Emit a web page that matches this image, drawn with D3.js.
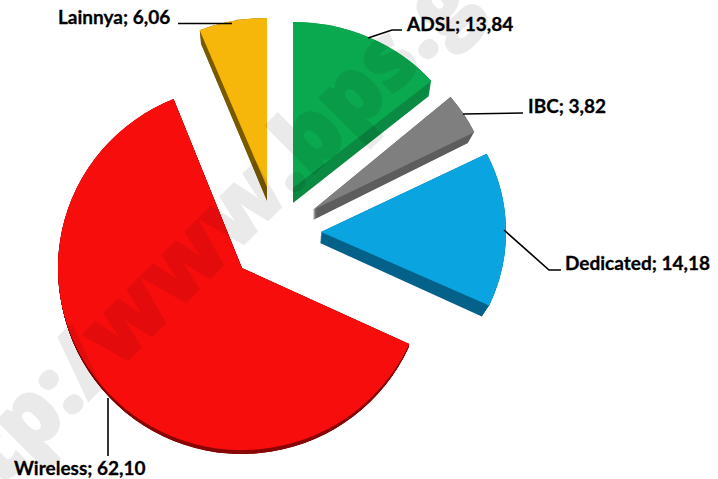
<!DOCTYPE html>
<html><head><meta charset="utf-8">
<script src="https://cdn.jsdelivr.net/npm/d3@7"></script>
<style>html,body{margin:0;padding:0;background:#fff}svg{display:block}</style>
</head><body><svg id="c" width="718" height="479"></svg>
<script>
const categories = ["ADSL","IBC","Dedicated","Wireless","Lainnya"];
const values = [13.84,3.82,14.18,62.10,6.06];
const faceColors = ["#0aa94f","#7f7f7f","#0aa5e0","#f80d0d","#f6b70a"];
const sideColors = ["#0a8a42","#5e5e5e","#05628a","#8a0808","#7a5c00"];
// layout of each exploded slice: top-face apex and radii, then the lower (extruded) copy
const faces = [
 {x:293,y:188,rx:181,ry:166, bx:293,by:203,brx:178,bry:166},
 {x:313,y:210,rx:180,ry:175, bx:313,by:220,brx:173,bry:173},
 {x:321,y:232,rx:185,ry:176, bx:320,by:243,brx:178,bry:176},
 {x:242,y:268,rx:184,ry:182, bx:242,by:272,brx:183,bry:182},
 {x:267,y:187,rx:181,ry:169, bx:267,by:201,brx:178,bry:170}
];
const leaders = [
 [[368,38],[392,30],[402,30]],
 [[463,114],[523,113]],
 [[504,230],[549,270],[561,270]],
 [[108,398],[108,456]],
 [[232,23.5],[178,23.5]]
];
const labelPos = [[407,31],[528,113],[565,270],[14,475],[58,24]];
const watermark = "http://www.bps.go.id";

const svg = d3.select("#c");
const fmt = v => v.toFixed(2).replace(".",",");
const arcs = d3.pie().sort(null)(values);
const unit = d3.arc().innerRadius(0).outerRadius(1);
const steps = 16;

const g = svg.append("g");
arcs.forEach((a,i)=>{
  const f = faces[i];
  for(let s=0;s<=steps;s++){
    const t=s/steps;
    g.append("path").attr("d",unit(a)).attr("fill",sideColors[i])
     .attr("transform",`translate(${f.bx+(f.x-f.bx)*t},${f.by+(f.y-f.by)*t}) scale(${f.brx+(f.rx-f.brx)*t},${f.bry+(f.ry-f.bry)*t})`);
  }
  g.append("path").attr("d",unit(a)).attr("fill",faceColors[i])
   .attr("transform",`translate(${f.x},${f.y}) scale(${f.rx},${f.ry})`);
});

svg.append("text").text(watermark)
  .attr("transform","translate(-73,561) rotate(-45)")
  .attr("dx","0 0 0 0 0 0 -37")
  .attr("font-family","Open Sans, sans-serif").attr("font-weight",800).attr("font-size",90)
  .attr("fill","#000").attr("stroke","#000").attr("stroke-width",2).attr("opacity",0.08);

const line = d3.line();
leaders.forEach(l=>svg.append("path").attr("d",line(l)).attr("fill","none").attr("stroke","#000").attr("stroke-width",1.6));

categories.forEach((c,i)=>{
  svg.append("text").attr("x",labelPos[i][0]).attr("y",labelPos[i][1])
   .attr("font-family","Lato, Carlito, sans-serif").attr("font-weight",700).attr("font-size",19)
   .attr("fill","#000").attr("stroke","#000").attr("stroke-width",0.3).text(`${c}; ${fmt(values[i])}`);
});
</script></body></html>
